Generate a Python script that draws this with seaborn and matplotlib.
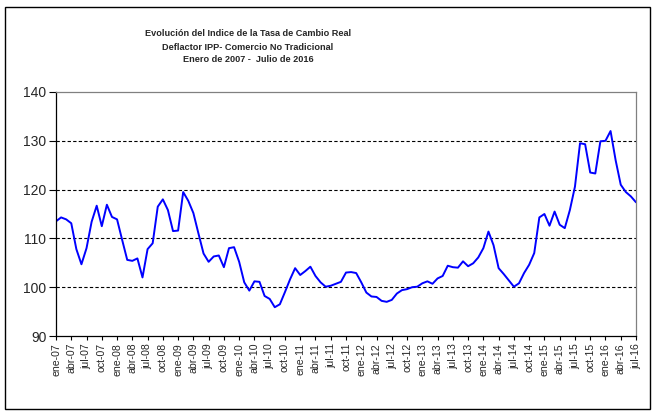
# -*- coding: utf-8 -*-
"""
Indice de la Tasa de Cambio Real, deflactor IPP - comercio no tradicional
ene-2007 a jul-2016, serie mensual
"""
import pandas as pd
import seaborn as sns
import matplotlib.pyplot as plt
from matplotlib.patches import Rectangle

# valores mensuales
y2007 = [113.5, 114.3, 113.9, 113.1, 107.8, 104.7, 108.0, 113.4, 116.7, 112.5, 116.9, 114.4]
y2008 = [113.9, 109.7, 105.6, 105.4, 105.9, 102.0, 107.8, 109.0, 116.5, 118.0, 115.8, 111.5]
y2009 = [111.6, 119.5, 117.7, 115.2, 111.0, 106.9, 105.2, 106.3, 106.5, 104.1, 108.0, 108.2]
y2010 = [105.2, 101.0, 99.3, 101.2, 101.1, 98.2, 97.6, 95.9, 96.5, 99.0, 101.6, 103.9]
y2011 = [102.5, 103.3, 104.2, 102.3, 101.0, 100.1, 100.3, 100.7, 101.1, 103.0, 103.1, 102.9]
y2012 = [101.0, 98.9, 98.1, 98.0, 97.2, 97.0, 97.4, 98.7, 99.4, 99.6, 100.0, 100.1]
y2013 = [100.8, 101.2, 100.7, 101.8, 102.3, 104.4, 104.1, 104.0, 105.3, 104.3, 104.9, 106.1]
y2014 = [108.0, 111.4, 108.6, 103.9, 102.7, 101.4, 100.1, 100.8, 102.9, 104.6, 107.0, 114.3]
y2015 = [115.0, 112.6, 115.5, 112.8, 112.1, 115.8, 120.6, 129.5, 129.3, 123.5, 123.3, 129.9]
y2016 = [130.0, 132.0, 126.0, 121.0, 119.5, 118.6, 117.4]

meses = ['ene', 'feb', 'mar', 'abr', 'may', 'jun', 'jul', 'ago', 'sep', 'oct', 'nov', 'dic']
anios = list(range(2007, 2017))

itcr = y2007 + y2008 + y2009 + y2010 + y2011 + y2012 + y2013 + y2014 + y2015 + y2016
etiquetas = [m + '-' + str(a)[2:] for a in anios for m in meses][:len(itcr)]

df = pd.DataFrame({'mes': range(len(itcr)), 'itcr': itcr, 'etiqueta': etiquetas})

sns.set_style("white")
plt.rcParams['font.family'] = ['Liberation Sans', 'DejaVu Sans']

fig = plt.figure(figsize=(6.55, 4.11), dpi=100)
ax = fig.add_axes([56 / 655, 1 - 336 / 411, 580 / 655, 244 / 411])

sns.lineplot(data=df, x='mes', y='itcr', ax=ax, color='#0000FF', linewidth=1.4)

ax.set_xlim(0, len(itcr) - 1)
ax.set_ylim(90, 140)
ax.set_yticks([90, 100, 110, 120, 130, 140])
ticks = df['mes'][::3]
ax.set_xticks(ticks)
ax.set_xticklabels(df['etiqueta'][::3], rotation=90, fontsize=7.6)
ax.tick_params(axis='y', labelsize=10, length=5, width=0.8, direction='out', pad=2, color='black', left=True)
ax.tick_params(axis='x', length=3, width=0.8, direction='out', pad=2, color='black', bottom=True)
ax.set_xlabel('')
ax.set_ylabel('')

for v in [100, 110, 120, 130]:
    ax.axhline(v, color='black', linewidth=0.8, linestyle=(0, (3, 2)), zorder=0)

ax.spines['left'].set_color('black')
ax.spines['bottom'].set_color('black')
ax.spines['top'].set_color('#808080')
ax.spines['right'].set_color('#808080')
for s in ax.spines.values():
    s.set_linewidth(0.9)

# titulo en tres lineas
titulos = ['Evolución del Indice de la Tasa de Cambio Real',
           'Deflactor IPP- Comercio No Tradicional',
           'Enero de 2007 -  Julio de 2016']
for k, t in enumerate(titulos):
    fig.text(248 / 655, 1 - (34 + 13 * k) / 411, t, ha='center', va='center',
             fontsize=6.6, fontweight='bold')

# marco del area del grafico
fig.patches.append(Rectangle((5 / 655, 2 / 411), 645 / 655, 402 / 411,
                             transform=fig.transFigure, fill=False,
                             edgecolor='black', linewidth=1.0))

fig.savefig('out.png', dpi=100)
